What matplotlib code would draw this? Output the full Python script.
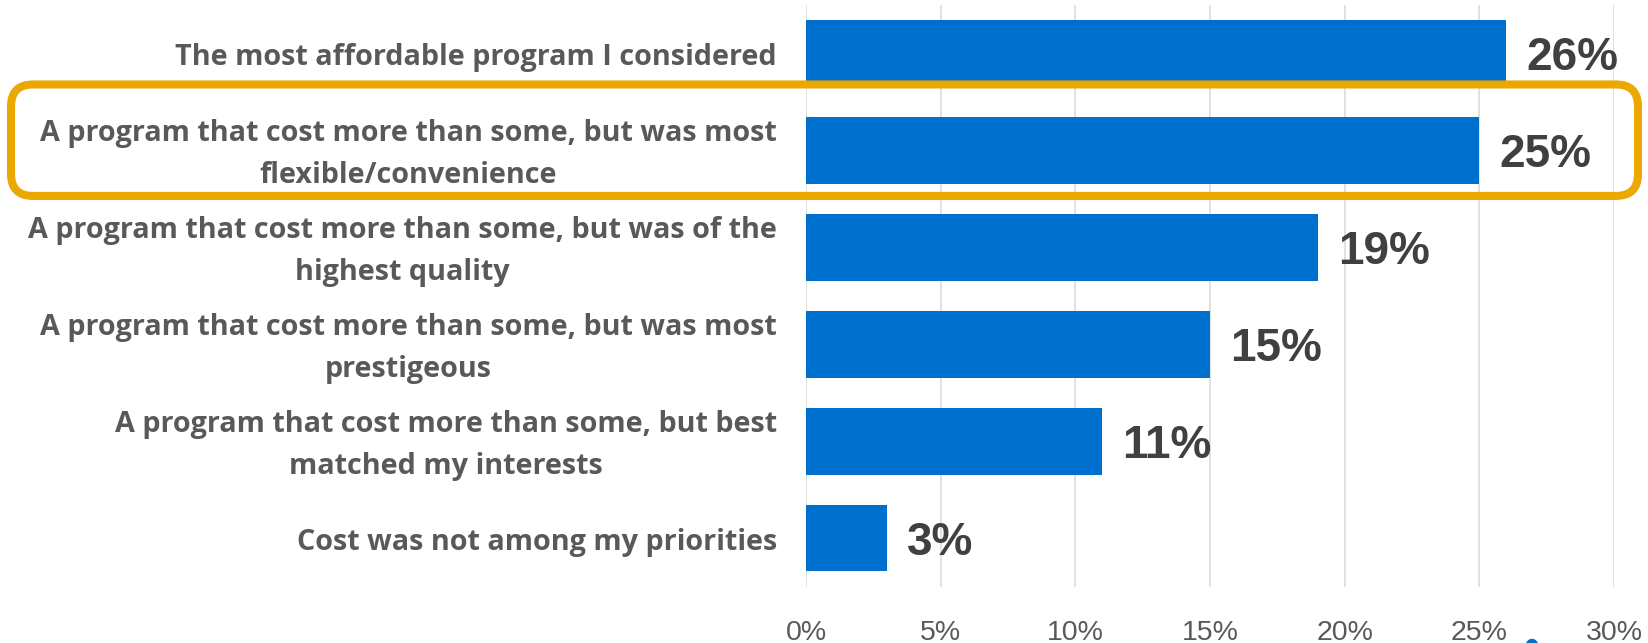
import numpy as np
import matplotlib
matplotlib.use("Agg")
import matplotlib.pyplot as plt
import matplotlib.transforms as mtransforms
from matplotlib.patches import FancyBboxPatch, Circle

# survey answers, top to bottom
categories = [
    "The most affordable program I considered",
    "A program that cost more than some, but was most\nflexible/convenience",
    "A program that cost more than some, but was of the\nhighest quality",
    "A program that cost more than some, but was most\nprestigeous",
    "A program that cost more than some, but best\nmatched my interests",
    "Cost was not among my priorities",
]
shares = [0.26, 0.25, 0.19, 0.15, 0.11, 0.03]
xticks = [0.0, 0.05, 0.10, 0.15, 0.20, 0.25, 0.30]
xtick_labels = ["0%", "5%", "10%", "15%", "20%", "25%", "30%"]
highlight = 1  # row that gets the orange frame

bar_color = "#0070CE"
frame_color = "#EAA800"

plt.rcParams["font.family"] = ["Liberation Sans", "DejaVu Sans"]

W, H, DPI = 1649, 643, 100
fig = plt.figure(figsize=(W / DPI, H / DPI), dpi=DPI)
ax = fig.add_axes([806 / W, 56.5 / H, (1614 - 806) / W, (586.5 - 5) / H])

y = np.arange(len(categories))
bars = ax.barh(y, shares, height=0.69, color=bar_color, zorder=3)

ax.set_xlim(0, 0.30)
ax.set_ylim(len(categories) - 0.5, -0.5)
ax.set_xticks(xticks)
ax.set_xticklabels(xtick_labels, fontsize=20.5, color="#595959")
ax.set_yticks(y)
ax.set_yticklabels(categories, fontsize=20.7, fontweight="bold", color="#595959",
                   family=["Open Sans", "DejaVu Sans"], ha="right", va="center",
                   multialignment="center", linespacing=1.58)
ax.tick_params(axis="x", length=0, pad=24)
ax.tick_params(axis="y", length=0, pad=21)
ax.grid(axis="x", color="#D9D9D9", linewidth=1.1, zorder=0)
for s in ax.spines.values():
    s.set_visible(False)

# nudge the category labels down a touch so they sit level with the bars
nudge = mtransforms.ScaledTranslation(0, -0.04, fig.dpi_scale_trans)
for lab in ax.get_yticklabels():
    lab.set_transform(lab.get_transform() + nudge)

# value labels just past the end of each bar
for yi, v in zip(y, shares):
    ax.annotate(f"{v*100:.0f}%", (v, yi), xytext=(14.5, 0), textcoords="offset points",
                ha="left", va="center_baseline", fontsize=33, fontweight="bold",
                color="#404040", zorder=5)

# rounded orange frame around the highlighted row, across the whole figure
fig.canvas.draw()
to_in = fig.dpi_scale_trans.inverted()
_, y_top = to_in.transform(ax.transData.transform((0, highlight - 0.68)))
_, y_bot = to_in.transform(ax.transData.transform((0, highlight + 0.47)))
frame = FancyBboxPatch((0.11, y_bot), (W - 22) / DPI, y_top - y_bot,
                       boxstyle="round,pad=0,rounding_size=0.22",
                       transform=fig.dpi_scale_trans, fill=False,
                       edgecolor=frame_color, linewidth=5.8, zorder=10)
fig.patches.append(frame)

# small blue dot peeking in at the bottom edge
fig.patches.append(Circle((15.32, -0.02), 0.055, transform=fig.dpi_scale_trans,
                          color=bar_color))

fig.savefig("out.png", dpi=DPI)
